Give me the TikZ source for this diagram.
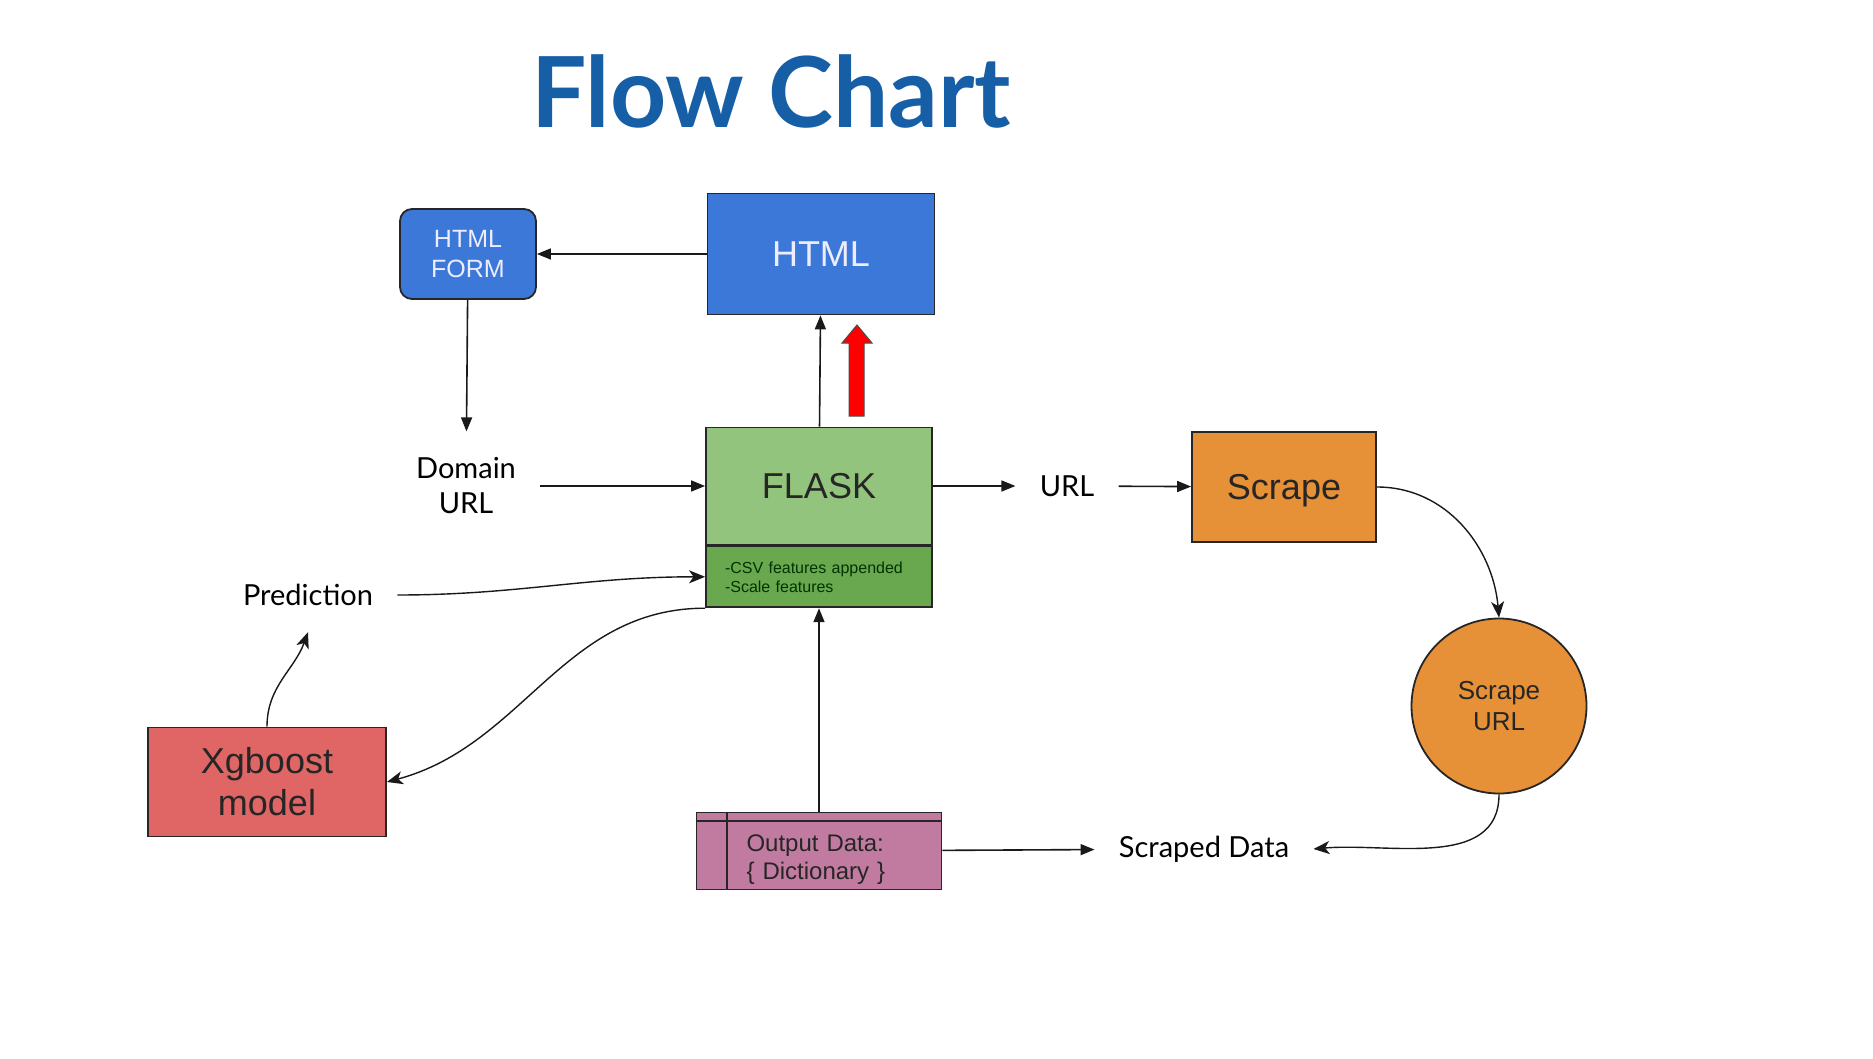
\documentclass[tikz,border=0pt]{standalone}
\usepackage{fontspec}
\setmainfont{Liberation Sans}
\newfontfamily\latofont{Lato}
\usetikzlibrary{positioning,arrows.meta}

\definecolor{titleblue}{RGB}{22,94,166}
\definecolor{htmlblue}{RGB}{60,120,216}
\definecolor{flaskgreen}{RGB}{147,196,125}
\definecolor{featgreen}{RGB}{106,168,79}
\definecolor{scrapeorange}{RGB}{230,145,56}
\definecolor{xgbred}{RGB}{224,102,102}
\definecolor{outpink}{RGB}{194,123,160}

\begin{document}
\begin{tikzpicture}[x=0.5pt,y=0.5pt,
    box/.style={draw=black!85, line width=0.9pt, inner sep=0pt, align=center, text=black!85},
    word/.style={font=\latofont\fontsize{14.5}{17.5}\selectfont, align=center, inner xsep=12pt, inner ysep=13pt},
    flow/.style={-{Triangle[length=7pt,width=5.5pt]}, line width=0.8pt, black!90},
    curvy/.style={-{Stealth[length=8pt,width=6.5pt,inset=2.2pt]}, line width=0.7pt, black!90}]
  \useasboundingbox (0,0) rectangle (1873,-1059);

  % title
  \node (title) at (771,-91) {\latofont\bfseries\fontsize{49}{51}\selectfont\textcolor{titleblue}{Flow Chart}};

  % boxes
  \node[box, fill=htmlblue, rounded corners=6pt, minimum width=68pt, minimum height=45pt,
        text=white!93!blue, font=\fontsize{12.5}{15}\selectfont] (form) at (468,-254) {HTML\\FORM};
  \node[box, fill=htmlblue, minimum width=113.5pt, minimum height=60.5pt,
        text=white!93!blue, font=\fontsize{18}{20}\selectfont] (html) at (821,-254) {HTML};
  \node[box, fill=flaskgreen, minimum width=113pt, minimum height=58.5pt,
        font=\fontsize{18}{20}\selectfont] (flask) at (819,-486) {FLASK};
  \node[box, fill=featgreen, minimum width=113pt, minimum height=30.5pt, inner xsep=9.5pt, text width=94pt,
        align=left, font=\fontsize{8}{9.5}\selectfont, text=black!80!green, below=0pt of flask] (feat)
        {-CSV features appended\\-Scale features};
  \node[box, fill=scrapeorange, minimum width=92pt, minimum height=55pt, text depth=0pt,
        font=\fontsize{18}{20}\selectfont] (scrape) at (1284,-487) {Scrape};
  \node[box, circle, fill=scrapeorange, minimum size=87.5pt,
        font=\fontsize{13}{15.5}\selectfont] (surl) at (1499,-706) {Scrape\\URL};
  \node[box, fill=xgbred, minimum width=119pt, minimum height=54.5pt,
        font=\fontsize{18}{21}\selectfont] (xgb) at (267,-782) {Xgboost\\model};
  \node[box, fill=outpink, minimum height=38.5pt, inner xsep=25pt, text width=72.5pt,
        align=left, font=\fontsize{12}{14}\selectfont] (out) at (819,-851)
        {\rule{0pt}{17pt}Output Data:\\\{ Dictionary \}};
  \draw[black!85, line width=0.9pt] ([xshift=15.5pt]out.north west) -- ([xshift=15.5pt]out.south west);
  \draw[black!85, line width=0.9pt] ([yshift=-4.5pt]out.north west) -- ([yshift=-4.5pt]out.north east);

  % plain labels
  \node[word] (domain) at (466,-486) {Domain\\URL};
  \node[word] (url) at (1067,-486) {URL};
  \node[word] (pred) at (308,-595) {Prediction};
  \node[word] (scraped) at (1204,-849) {Scraped Data};

  % red arrow
  \draw[fill=red, draw=black!70, line width=0.5pt] (849,-416) -- (849,-343) -- (842,-343) -- (857,-325)
    -- (872,-343) -- (864,-343) -- (864,-416) -- cycle;

  % connectors
  \draw[flow] (html) -- (form);
  \draw[flow] (form) -- (domain);
  \draw[flow] (domain) -- (flask);
  \draw[flow] (flask) -- (html);
  \draw[flow] (flask) -- (url);
  \draw[flow] (url) -- (scrape);
  \draw[flow] (out) -- (feat);
  \draw[flow] (out) -- (scraped);
  \draw[curvy] (pred.east) to[out=0,in=180] (feat.west);
  \draw[curvy] (feat.south west) to[out=180,in=15] (xgb.east);
  \draw[curvy] (xgb.north) to[out=90,in=-110] (pred.south);
  \draw[curvy] (scrape.east) to[out=0,in=95] (surl.north);
  \draw[curvy] (surl.south) to[out=-90,in=5] (scraped.east);
\end{tikzpicture}
\end{document}
